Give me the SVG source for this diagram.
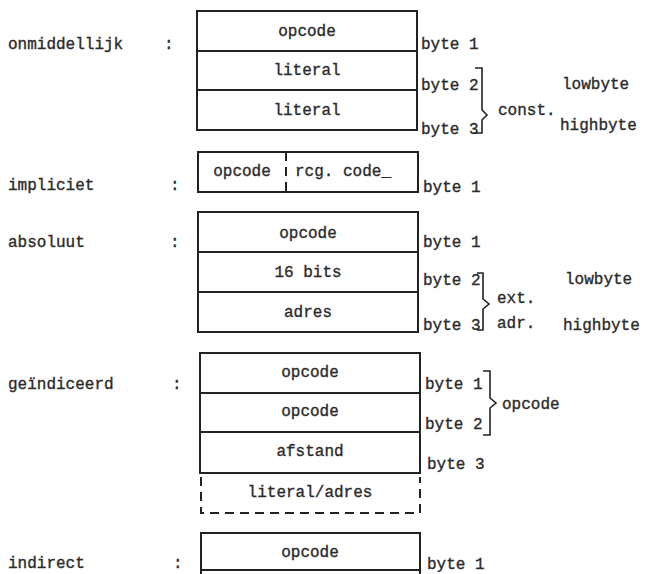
<svg xmlns="http://www.w3.org/2000/svg" width="645" height="574" viewBox="0 0 645 574">
<style>
text{font-family:"Liberation Mono","DejaVu Sans Mono",monospace;font-size:16px;fill:#2b2b2b;stroke:#2b2b2b;stroke-width:0.35px;letter-spacing:0}
.c{text-anchor:middle}
.box{fill:none;stroke:#222;stroke-width:2}
.ln{stroke:#222;stroke-width:2;fill:none}
.dash{stroke:#222;stroke-width:2;fill:none;stroke-dasharray:9 6}
.br{stroke:#222;stroke-width:1.6;fill:none}
</style>
<rect width="645" height="574" fill="#fff"/>

<g id="onmiddellijk">
<text x="8" y="49">onmiddellijk</text>
<text x="164" y="49">:</text>
<rect class="box" x="197" y="11" width="220" height="119"/>
<line class="ln" x1="197" y1="51" x2="417" y2="51"/>
<line class="ln" x1="197" y1="90" x2="417" y2="90"/>
<text class="c" x="307" y="36">opcode</text>
<text class="c" x="307" y="75">literal</text>
<text class="c" x="307" y="115">literal</text>
<text x="421" y="49">byte 1</text>
<text x="421" y="90">byte 2</text>
<text x="421" y="134">byte 3</text>
<text x="498" y="115">const.</text>
<text x="562" y="89">lowbyte</text>
<text x="560" y="130">highbyte</text>
</g>

<g id="impliciet">
<text x="8" y="190">impliciet</text>
<text x="170" y="190">:</text>
<rect class="box" x="198" y="152" width="220" height="40"/>
<line class="dash" x1="286" y1="152" x2="286" y2="192" stroke-dasharray="7 5"/>
<text class="c" x="242" y="176">opcode</text>
<text x="295" y="176">rcg. code_</text>
<text x="423" y="192">byte 1</text>
</g>

<g id="absoluut">
<text x="8" y="247">absoluut</text>
<text x="170" y="247">:</text>
<rect class="box" x="198" y="212" width="220" height="120"/>
<line class="ln" x1="198" y1="252" x2="418" y2="252"/>
<line class="ln" x1="198" y1="292" x2="418" y2="292"/>
<text class="c" x="308" y="238">opcode</text>
<text class="c" x="308" y="277">16 bits</text>
<text class="c" x="308" y="317">adres</text>
<text x="423" y="247">byte 1</text>
<text x="423" y="285">byte 2</text>
<text x="423" y="330">byte 3</text>
<text x="497" y="303">ext.</text>
<text x="497" y="328">adr.</text>
<text x="565" y="284">lowbyte</text>
<text x="563" y="330">highbyte</text>
</g>

<g id="geindiceerd">
<text x="8" y="389">geïndiceerd</text>
<text x="172" y="389">:</text>
<path class="ln" d="M200,473 V353 H420 V473 Z"/>
<line class="ln" x1="200" y1="393" x2="420" y2="393"/>
<line class="ln" x1="200" y1="432" x2="420" y2="432"/>
<path class="dash" d="M201,477 V513 H420 V477"/>
<text class="c" x="310" y="377">opcode</text>
<text class="c" x="310" y="416">opcode</text>
<text class="c" x="310" y="456">afstand</text>
<text class="c" x="310" y="497">literal/adres</text>
<text x="425" y="389">byte 1</text>
<text x="425" y="429">byte 2</text>
<text x="427" y="469">byte 3</text>
<text x="502" y="409">opcode</text>
</g>

<g id="indirect">
<text x="8" y="568">indirect</text>
<text x="173" y="568">:</text>
<path class="ln" d="M201,576 V533 H420 V576"/>
<line class="ln" x1="201" y1="570" x2="420" y2="570"/>
<text class="c" x="310" y="557">opcode</text>
<text x="427" y="569">byte 1</text>
</g>

<g id="connectors">
<path class="br" d="M475,68 H482 V110 L487,115 L482,120 V133 H475"/>
<path class="br" d="M477,273 H483 V299 L489,304 L483,309 V330 H477"/>
<path class="br" d="M483,371 H490 V398 L496,403 L490,408 V435 H483"/>
</g>
</svg>
